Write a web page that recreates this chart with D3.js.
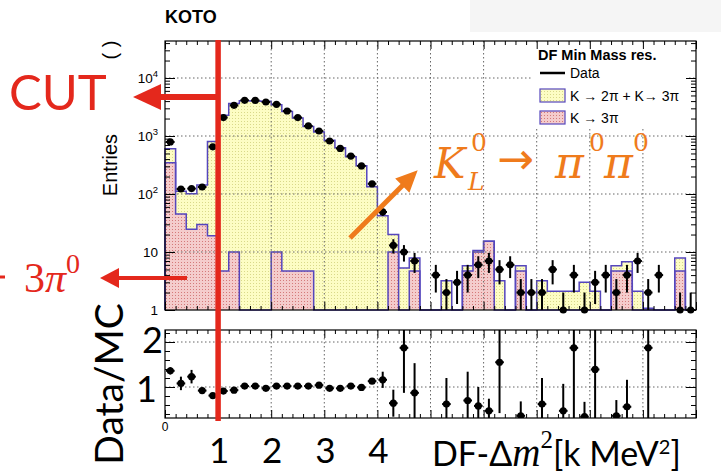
<!DOCTYPE html>
<html>
<head>
<meta charset="utf-8">
<script src="https://cdn.jsdelivr.net/npm/d3@7"></script>
<style>
  body { margin: 0; background: #fff; }
  svg { display: block; }
</style>
</head>
<body>
<svg id="drawing_region"></svg>
<script>
// 50 bins of 0.2 between 0 and 10
const binEdges = d3.range(0, 51).map(i => +(i * 0.2).toFixed(1));

// observed data (entries per bin)
const dataCounts = [790, 122, 124, 132, 650, 2080, 3380, 4130, 4100, 3860,
                    3520, 2700, 2080, 1490, 1220, 820, 610, 450, 305, 150,
                    49, 13, 10, 7, 0, 4, 2, 3, 4, 6,
                    7, 5, 6, 2, 2, 2, 5, 1, 4, 1,
                    3, 4, 2, 4, 7, 2, 4, 0, 1, 1];

// MC stack: K -> 2pi + K -> 3pi (total) and K -> 3pi only
const mcTotal = [600, 112, 101, 143, 800, 2290, 3630, 4050, 4020, 3980,
                 3450, 2650, 2040, 1460, 1170, 845, 630, 440, 308, 133,
                 42, 20, 5.3, 7.9, 0, 0, 3.2, 0, 5.8, 10.6,
                 15.4, 3.2, 0, 5.8, 0, 3.2, 2.1, 2.1, 2.1, 3.0,
                 2.1, 0, 5.8, 6.8, 2.1, 1.07, 0, 0, 7.9, 0];
const mcK3pi = [345, 45, 24.6, 29.7, 19, 4.7, 10, 0, 0, 0,
                10, 4.7, 4.7, 4.7, 0, 0, 0, 0, 0, 0,
                0, 10, 0, 4.7, 0, 0, 0, 0, 4.7, 10,
                15.4, 0, 0, 4.7, 0, 0, 0, 0, 0, 0,
                0, 0, 4.7, 4.7, 0, 0, 0, 0, 4.7, 0];

// Data/MC ratio panel
const ratioValues = [1.36, 1.08, 1.23, 0.92, 0.81, 0.91, 0.93, 1.02, 1.02, 0.97,
                     1.02, 1.02, 1.02, 1.02, 1.04, 0.97, 0.97, 1.02, 0.99, 1.13,
                     1.16, 0.64, 1.87, 0.87, null, null, 0.62, null, 0.70, 0.58,
                     0.47, 1.55, null, 0.36, null, 0.62, null, 0.47, 1.87, 0.34,
                     1.39, null, 0.36, 0.56, null, 1.87, null, null, null, null];
const ratioErrors = [0.08, 0.15, 0.15, 0.06, 0.03, 0.02, 0.02, 0.02, 0.02, 0.02,
                     0.02, 0.02, 0.02, 0.02, 0.02, 0.02, 0.02, 0.02, 0.02, 0.06,
                     0.18, 0.3, 1.0, 0.66, 0, 0, 0.58, 0, 0.64, 0.42,
                     0.27, 1.13, 0, 0.32, 0, 0.58, 0, 0.6, 1.9, 0.33,
                     1.4, 0, 0.35, 0.6, 0, 1.9, 0, 0, 0, 0];

const logTicks = [1, 10, 100, 1000, 10000];
const ratioMajor = [1, 2];
const ratioMinor = [0.4, 0.6, 0.8, 1.2, 1.4, 1.6, 1.8, 2.2];
const bigXLabels = [1, 2, 3, 4];
const legendTitle = "DF Min Mass res.";
const legendLabels = ["Data", "K \u2192 2\u03c0 + K\u2192 3\u03c0", "K \u2192 3\u03c0"];

const cfg = {
    width: 721, height: 475,
    left: 165, right: 696,
    mainTop: 41, mainBottom: 310,
    ratioTop: 330, ratioBottom: 418,
    red: '#e4281c', orange: '#ef7b1c', outline: '#5546bd'
};

const svg = d3.select('#drawing_region')
    .attr('width', cfg.width)
    .attr('height', cfg.height)
    .style('font-family', 'Liberation Sans, Arial, sans-serif');

// faint panel at top right
svg.append('rect').attr('x', 470).attr('y', 0).attr('width', 251).attr('height', 32).attr('fill', '#f5f5f5');

const defs = svg.append('defs');
function dotPattern(id, bg, dot) {
    const p = defs.append('pattern').attr('id', id)
        .attr('width', 3).attr('height', 3).attr('patternUnits', 'userSpaceOnUse');
    p.append('rect').attr('width', 3).attr('height', 3).attr('fill', bg);
    p.append('rect').attr('x', 1).attr('y', 1).attr('width', 1).attr('height', 1).attr('fill', dot);
}
dotPattern('dotYellow', '#fdfdc4', '#d9d98a');
dotPattern('dotPink', '#f4cccc', '#d47a7a');

defs.append('clipPath').attr('id', 'clipMain').append('rect')
    .attr('x', cfg.left).attr('y', cfg.mainTop)
    .attr('width', cfg.right - cfg.left).attr('height', cfg.mainBottom - cfg.mainTop);
defs.append('clipPath').attr('id', 'clipRatio').append('rect')
    .attr('x', cfg.left).attr('y', cfg.ratioTop)
    .attr('width', cfg.right - cfg.left).attr('height', cfg.ratioBottom - cfg.ratioTop);

// scales
const xscale = d3.scaleLinear().domain([0, 10]).range([cfg.left, cfg.right]);
const yscale = d3.scaleLog().domain([1, 43450]).range([cfg.mainBottom, cfg.mainTop]);
const rscale = d3.scaleLinear().domain([0.311, 2.267]).range([cfg.ratioBottom, cfg.ratioTop]);
const ylog = v => v >= 1 ? yscale(v) : yscale(1);

// ---------- main panel ----------
const main = svg.append('g');

function stepPoints(vals) {
    const pts = [[binEdges[0], 0]];
    vals.forEach((v, i) => { pts.push([binEdges[i], v]); pts.push([binEdges[i + 1], v]); });
    pts.push([binEdges[binEdges.length - 1], 0]);
    return pts;
}
const histArea = d3.area().x(d => xscale(d[0])).y0(yscale(1)).y1(d => ylog(d[1]));
const histLine = d3.line().x(d => xscale(d[0])).y(d => ylog(d[1]));

main.append('path').attr('d', histArea(stepPoints(mcTotal))).attr('fill', 'url(#dotYellow)');
main.append('path').attr('d', histArea(stepPoints(mcK3pi))).attr('fill', 'url(#dotPink)');
main.append('path').attr('d', histLine(stepPoints(mcTotal)))
    .attr('fill', 'none').attr('stroke', cfg.outline).attr('stroke-width', 1.5);
main.append('path').attr('d', histLine(stepPoints(mcK3pi)))
    .attr('fill', 'none').attr('stroke', cfg.outline).attr('stroke-width', 1.5);

// grid
const gridX = d3.range(1, 10);
const grid = svg.append('g').attr('stroke', '#666').attr('stroke-width', 1).attr('stroke-dasharray', '1.5,2.5');
grid.selectAll('.gx').data(gridX).enter().append('line')
    .attr('x1', d => xscale(d)).attr('x2', d => xscale(d))
    .attr('y1', cfg.mainTop).attr('y2', cfg.mainBottom);
grid.selectAll('.gy').data(logTicks.slice(1)).enter().append('line')
    .attr('x1', cfg.left).attr('x2', cfg.right)
    .attr('y1', d => yscale(d)).attr('y2', d => yscale(d));
grid.selectAll('.rx').data(gridX).enter().append('line')
    .attr('x1', d => xscale(d)).attr('x2', d => xscale(d))
    .attr('y1', cfg.ratioTop).attr('y2', cfg.ratioBottom);
grid.selectAll('.ry').data(ratioMajor).enter().append('line')
    .attr('x1', cfg.left).attr('x2', cfg.right)
    .attr('y1', d => rscale(d)).attr('y2', d => rscale(d));

// legend box (hides grid underneath)
const legend = svg.append('g');
legend.append('rect').attr('x', 533).attr('y', 43).attr('width', 156).attr('height', 85).attr('fill', '#fff');
legend.append('text').attr('x', 538).attr('y', 60).attr('font-weight', 'bold').attr('font-size', 14.5)
    .text(legendTitle);
legend.append('line').attr('x1', 540).attr('x2', 565).attr('y1', 73).attr('y2', 73)
    .attr('stroke', '#000').attr('stroke-width', 2.5);
legend.append('rect').attr('x', 540).attr('y', 89).attr('width', 25).attr('height', 13)
    .attr('fill', 'url(#dotYellow)').attr('stroke', cfg.outline).attr('stroke-width', 1.2);
legend.append('rect').attr('x', 540).attr('y', 111).attr('width', 25).attr('height', 13)
    .attr('fill', 'url(#dotPink)').attr('stroke', cfg.outline).attr('stroke-width', 1.2);
legend.selectAll('.lt').data(legendLabels).enter().append('text')
    .attr('x', 570).attr('y', (d, i) => 78 + i * 22.5)
    .attr('font-size', 14).text(d => d);

// data points
const points = svg.append('g');
const dataBins = dataCounts.map((v, i) => ({ i, v })).filter(d => d.v > 0);
const errG = points.append('g').attr('clip-path', 'url(#clipMain)')
    .attr('stroke', '#000').attr('stroke-width', 2);
errG.selectAll('.ev').data(dataBins).enter().append('line')
    .attr('x1', d => xscale((binEdges[d.i] + binEdges[d.i + 1]) / 2))
    .attr('x2', d => xscale((binEdges[d.i] + binEdges[d.i + 1]) / 2))
    .attr('y1', d => ylog(d.v + Math.sqrt(d.v)))
    .attr('y2', d => ylog(d.v - Math.sqrt(d.v)));
errG.selectAll('.eh').data(dataBins).enter().append('line')
    .attr('x1', d => xscale(binEdges[d.i]) + 1)
    .attr('x2', d => xscale(binEdges[d.i + 1]) - 1)
    .attr('y1', d => ylog(d.v)).attr('y2', d => ylog(d.v));
points.selectAll('circle').data(dataBins).enter().append('circle')
    .attr('cx', d => xscale((binEdges[d.i] + binEdges[d.i + 1]) / 2))
    .attr('cy', d => ylog(d.v)).attr('r', 3.6).attr('fill', '#000');

// ---------- ratio panel ----------
const rBins = ratioValues.map((v, i) => ({ i, v, e: ratioErrors[i] })).filter(d => d.v !== null);
const rG = svg.append('g').attr('clip-path', 'url(#clipRatio)');
rG.selectAll('.rv').data(rBins).enter().append('line')
    .attr('x1', d => xscale((binEdges[d.i] + binEdges[d.i + 1]) / 2))
    .attr('x2', d => xscale((binEdges[d.i] + binEdges[d.i + 1]) / 2))
    .attr('y1', d => rscale(d.v + d.e)).attr('y2', d => rscale(d.v - d.e))
    .attr('stroke', '#000').attr('stroke-width', 2);
rG.selectAll('.rh').data(rBins).enter().append('line')
    .attr('x1', d => xscale(binEdges[d.i]) + 1).attr('x2', d => xscale(binEdges[d.i + 1]) - 1)
    .attr('y1', d => rscale(d.v)).attr('y2', d => rscale(d.v))
    .attr('stroke', '#000').attr('stroke-width', 2);
rG.selectAll('circle').data(rBins).enter().append('circle')
    .attr('cx', d => xscale((binEdges[d.i] + binEdges[d.i + 1]) / 2))
    .attr('cy', d => rscale(d.v)).attr('r', 3.6).attr('fill', '#000');

// ---------- frames and ticks ----------
const xMajor = d3.range(0, 11);
const xMinor = d3.range(0, 51).map(i => +(i * 0.2).toFixed(1)).filter(v => v % 1 !== 0);
const yMinor = d3.range(0, 5).flatMap(e => d3.range(2, 10).map(m => m * Math.pow(10, e)))
    .filter(v => v < 43450);

function tickGroup(axis, values, size, transform) {
    svg.append('g').attr('transform', transform)
        .call(axis.tickValues(values).tickSize(size).tickSizeOuter(0).tickFormat(''))
        .call(g => g.select('.domain').remove());
}
[[cfg.mainTop, cfg.mainBottom, yscale, yMinor, logTicks],
 [cfg.ratioTop, cfg.ratioBottom, rscale, ratioMinor, ratioMajor]].forEach(([top, bottom, ys, minor, major]) => {
    tickGroup(d3.axisBottom(xscale), xMinor, -4, `translate(0,${bottom})`);
    tickGroup(d3.axisBottom(xscale), xMajor, -8, `translate(0,${bottom})`);
    tickGroup(d3.axisTop(xscale), xMinor, -4, `translate(0,${top})`);
    tickGroup(d3.axisTop(xscale), xMajor, -8, `translate(0,${top})`);
    tickGroup(d3.axisLeft(ys), minor, -5, `translate(${cfg.left},0)`);
    tickGroup(d3.axisLeft(ys), major, -10, `translate(${cfg.left},0)`);
    tickGroup(d3.axisRight(ys), minor, -5, `translate(${cfg.right},0)`);
    tickGroup(d3.axisRight(ys), major, -10, `translate(${cfg.right},0)`);
    svg.append('rect').attr('x', cfg.left).attr('y', top)
        .attr('width', cfg.right - cfg.left).attr('height', bottom - top)
        .attr('fill', 'none').attr('stroke', '#000').attr('stroke-width', 1.2);
});

// y tick labels (main)
const yLab = svg.append('g').attr('font-size', 13.5).attr('text-anchor', 'end');
logTicks.forEach(v => {
    const exp = Math.round(Math.log10(v));
    const t = yLab.append('text').attr('x', 158).attr('y', yscale(v) + 5);
    if (exp < 2) {
        t.text(String(v));
    } else {
        t.append('tspan').text('10');
        t.append('tspan').attr('dy', -6).attr('font-size', 9.5).text(String(exp));
    }
});
// ratio x label at the origin (the others are covered by the slide overlay)
svg.append('text').attr('x', xscale(0)).attr('y', 431).attr('text-anchor', 'middle')
    .attr('font-size', 12).text(xMajor[0]);

svg.append('text').attr('x', 165).attr('y', 23).attr('font-weight', 'bold').attr('font-size', 18).text('KOTO');
svg.append('text').attr('transform', 'translate(117,165) rotate(-90)').attr('text-anchor', 'middle')
    .attr('font-size', 20).text('Entries');
svg.append('text').attr('transform', 'translate(117,50) rotate(-90)').attr('text-anchor', 'middle')
    .attr('font-size', 20).text('( )');

// ---------- slide annotations ----------
const ann = svg.append('g');
const big = 'Lato, "Open Sans", sans-serif';
const serif = '"DejaVu Serif", "Liberation Serif", serif';
const tserif = '"Liberation Serif", "DejaVu Serif", serif';

ann.append('line').attr('x1', xscale(1)).attr('x2', xscale(1)).attr('y1', 40).attr('y2', 421)
    .attr('stroke', cfg.red).attr('stroke-width', 5.5);
// CUT arrow
ann.append('line').attr('x1', xscale(1)).attr('x2', 158).attr('y1', 97).attr('y2', 97)
    .attr('stroke', cfg.red).attr('stroke-width', 6);
ann.append('path').attr('d', 'M133,97 L161,84 L161,110 Z').attr('fill', cfg.red);
ann.append('text').attr('x', 9).attr('y', 110).attr('font-family', big).attr('font-size', 49)
    .attr('fill', cfg.red).text('CUT');
// 3pi0 arrow
ann.append('line').attr('x1', 187).attr('x2', 116).attr('y1', 278).attr('y2', 278)
    .attr('stroke', cfg.red).attr('stroke-width', 4);
ann.append('path').attr('d', 'M100,278 L119,268 L119,288 Z').attr('fill', cfg.red);
ann.append('line').attr('x1', 0).attr('x2', 5).attr('y1', 277).attr('y2', 277)
    .attr('stroke', cfg.red).attr('stroke-width', 3);
const pi3 = ann.append('text').attr('x', 24).attr('y', 292).attr('font-family', tserif)
    .attr('font-size', 42).attr('fill', cfg.red);
pi3.append('tspan').text('3');
pi3.append('tspan').attr('font-style', 'italic').text('\u03c0');
pi3.append('tspan').attr('dy', -19).attr('font-size', 28).text('0');

// K_L -> pi0 pi0 annotation
ann.append('line').attr('x1', 350).attr('y1', 238).attr('x2', 405).attr('y2', 183)
    .attr('stroke', cfg.orange).attr('stroke-width', 5);
ann.append('path').attr('d', 'M416,172 L397,179 L409,191 Z').attr('fill', cfg.orange)
    .attr('stroke', cfg.orange).attr('stroke-width', 2);
const kl = ann.append('g').attr('font-family', serif).attr('fill', cfg.orange);
kl.append('text').attr('x', 434).attr('y', 178).attr('font-size', 42).attr('font-style', 'italic').text('K');
kl.append('text').attr('x', 471).attr('y', 151).attr('font-size', 25).text('0');
kl.append('text').attr('x', 468).attr('y', 190).attr('font-size', 25).attr('font-style', 'italic').text('L');
kl.append('text').attr('x', 497).attr('y', 174).attr('font-size', 44)
    .attr('font-family', '"DejaVu Sans", sans-serif').text('\u2192');
kl.append('text').attr('x', 555).attr('y', 178).attr('font-size', 44).attr('font-style', 'italic').text('\u03c0');
kl.append('text').attr('x', 589).attr('y', 151).attr('font-size', 25).text('0');
kl.append('text').attr('x', 604).attr('y', 178).attr('font-size', 44).attr('font-style', 'italic').text('\u03c0');
kl.append('text').attr('x', 633).attr('y', 151).attr('font-size', 25).text('0');

// big axis labels
ann.selectAll('.bx').data(bigXLabels).enter().append('text')
    .attr('x', d => xscale(d) + 1).attr('y', 463).attr('text-anchor', 'middle')
    .attr('font-family', big).attr('font-size', 35).text(d => d);
const xt = ann.append('text').attr('x', 432).attr('y', 466).attr('font-family', big).attr('font-size', 34);
xt.append('tspan').text('DF-\u0394');
xt.append('tspan').attr('font-family', tserif).attr('font-style', 'italic').attr('font-size', 39).text('m');
xt.append('tspan').attr('font-family', tserif).attr('font-size', 25).attr('dy', -18).text('2');
xt.append('tspan').attr('dy', 18).text('[k MeV');
xt.append('tspan').attr('font-size', 20).attr('dy', -12).text('2');
xt.append('tspan').attr('dy', 12).text(']');

ann.append('text').attr('transform', 'translate(123,384) rotate(-90)').attr('text-anchor', 'middle')
    .attr('font-family', big).attr('font-size', 39).text('Data/MC');
ann.append('text').attr('x', 163).attr('y', 353).attr('text-anchor', 'end')
    .attr('font-family', big).attr('font-size', 36).text('2');
ann.append('text').attr('x', 157).attr('y', 402).attr('text-anchor', 'end')
    .attr('font-family', big).attr('font-size', 36).text('1');
</script>
</body>
</html>
